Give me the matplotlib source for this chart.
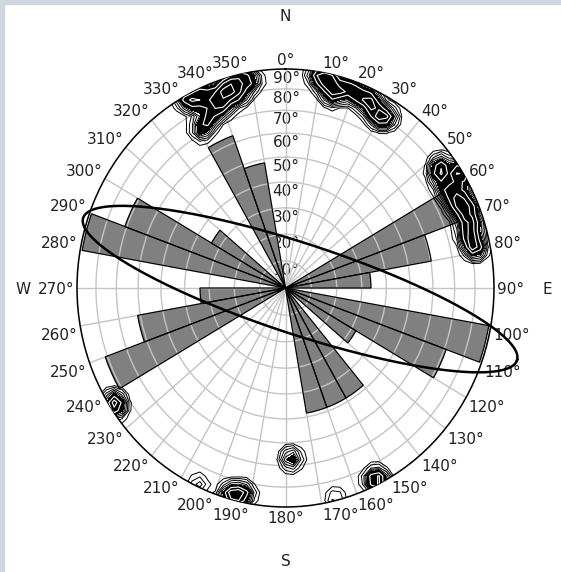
import numpy as np
import matplotlib
matplotlib.use('Agg')
import matplotlib.pyplot as plt
from matplotlib.patches import Rectangle

# rose diagram, 10 degree bins (start azimuth, length as fraction of the net radius)
bin_start = [60, 70, 80, 100, 110, 120, 140, 150, 160,
             240, 250, 260, 280, 290, 300, 330, 340]
bin_length = [0.93, 0.71, 0.41, 0.99, 0.82, 0.39, 0.58, 0.58, 0.58,
              0.92, 0.72, 0.41, 0.99, 0.82, 0.41, 0.74, 0.58]

# poles (azimuth in degrees, radius in the equal-area net, weight)
pole_az = [331, 333, 336, 338, 341, 344, 347, 350, 346, 340, 335, 331, 343,
           9, 11, 13, 16, 19, 22, 25, 27, 30, 32, 14,
           53, 55, 57, 59, 60, 63, 65, 67, 69, 72, 74, 77, 79,
           236, 238,
           192, 194, 196, 205,
           178,
           153, 154,
           166]
pole_r = [0.99, 0.95, 0.98, 0.92, 0.95, 0.97, 0.99, 0.96, 0.91, 0.88, 0.86, 0.83, 0.93,
          0.99, 0.96, 0.99, 0.94, 0.97, 0.94, 0.96, 0.92, 0.90, 0.92, 0.91,
          0.93, 0.90, 1.00, 0.98, 0.89, 0.94, 0.90, 0.96, 0.92, 0.95, 0.91, 0.92, 0.93,
          0.98, 0.97,
          0.96, 0.98, 0.98, 0.99,
          0.78,
          0.99, 0.97,
          0.99]
pole_w = [1] * 42 + [0.4, 1, 1, 1, 0.4]

# fitted ellipse in net coordinates
ell_center = (0.07, -0.005)
ell_axes = (1.09, 0.208)
ell_angle = -17.3

dip_ticks = [10, 20, 30, 40, 50, 60, 70, 80, 90]
azimuth_ticks = list(range(0, 360, 10))
compass = ['N', 'E', 'S', 'W']


def equal_area(deg):
    return np.sqrt(2) * np.sin(np.radians(np.asarray(deg, dtype=float)) / 2)


txt = '#222222'
fig = plt.figure(figsize=(5.61, 5.72), dpi=100)
fig.patch.set_facecolor('white')
fig.patches.append(Rectangle((0, 1 - 4 / 572), 1, 4 / 572, transform=fig.transFigure,
                             color='#d0d7de', zorder=0))
fig.patches.append(Rectangle((0, 0), 4 / 561, 1, transform=fig.transFigure,
                             color='#d0d7de', zorder=0))

box = [77 / 561, 65 / 572, 417 / 561, 438 / 572]
ax = fig.add_axes(box, projection='polar')
ax.set_aspect('auto')
ax.set_theta_zero_location('N')
ax.set_theta_direction(-1)

theta = np.radians(np.array(bin_start) + 5)
# grey fill under the grid, black outlines over it
ax.bar(theta, bin_length, width=np.radians(10), bottom=0,
       color='#808080', linewidth=0, zorder=1.3)
ax.bar(theta, bin_length, width=np.radians(10), bottom=0,
       facecolor='none', edgecolor='black', linewidth=0.9, zorder=2)

ax.set_ylim(0, 1)
ax.set_xticks(np.radians(azimuth_ticks))
ax.set_xticklabels([])
ax.set_yticks(equal_area(dip_ticks))
ax.set_yticklabels([])
ax.tick_params(length=0)
ax.grid(color='#c4c4c4', linewidth=1.0, zorder=1.5)
ax.spines['polar'].set_linewidth(1.1)

for az in azimuth_ticks:
    s, c = np.sin(np.radians(az)), np.cos(np.radians(az))
    ha = 'left' if s > 0.05 else ('right' if s < -0.05 else 'center')
    va = 'bottom' if c > 0.05 else ('top' if c < -0.05 else 'center')
    ax.annotate(f'{az}°', xy=(np.radians(az), 1), xytext=(2 * s, 2 * c - 1),
                textcoords='offset points', ha=ha, va=va, fontsize=11,
                color=txt, annotation_clip=False)

for d in dip_ticks:
    ax.annotate(f'{d}°', xy=(0, equal_area(d)), xytext=(0.5, -1.5),
                textcoords='offset points', ha='center', va='top',
                fontsize=11, color=txt, zorder=1.1)

for i, lab in enumerate(compass):
    a = np.radians(90 * i)
    ax.annotate(lab, xy=(a, 1), xytext=(38.5 * np.sin(a), 38.5 * np.cos(a) - 1),
                textcoords='offset points', ha='center', va='center',
                fontsize=11, color=txt, annotation_clip=False)

# overlay in net coordinates for the pole contours and the ellipse
ov = fig.add_axes(box)
ov.set_xlim(-1, 1)
ov.set_ylim(-1, 1)
ov.axis('off')
ov.patch.set_alpha(0)

px = np.array(pole_r) * np.sin(np.radians(pole_az))
py = np.array(pole_r) * np.cos(np.radians(pole_az))
g = np.linspace(-1.12, 1.12, 61)
gx, gy = np.meshgrid(g, g)
sigma = 0.031
z = np.zeros_like(gx)
for x0, y0, w in zip(px, py, pole_w):
    z += w * np.exp(-((gx - x0) ** 2 + (gy - y0) ** 2) / (2 * sigma ** 2))

sets = [
    ov.contourf(gx, gy, z, levels=[0.7, 100], colors=['black'], zorder=4),
    ov.contour(gx, gy, z, levels=[0.1, 0.2, 0.32, 0.45, 0.58],
               colors='black', linewidths=0.7, zorder=5),
    ov.contour(gx, gy, z, levels=[1.0, 1.4, 1.9, 2.5],
               colors='white', linewidths=0.8, zorder=5),
]
for cs in sets:
    cs.set_clip_path(ax.patch)

t = np.linspace(0, 2 * np.pi, 400)
phi = np.radians(ell_angle)
ex = ell_center[0] + ell_axes[0] * np.cos(t) * np.cos(phi) - ell_axes[1] * np.sin(t) * np.sin(phi)
ey = ell_center[1] + ell_axes[0] * np.cos(t) * np.sin(phi) + ell_axes[1] * np.sin(t) * np.cos(phi)
ov.plot(ex, ey, color='black', linewidth=1.8, clip_on=False, zorder=6)

fig.savefig('out.png', dpi=100)
